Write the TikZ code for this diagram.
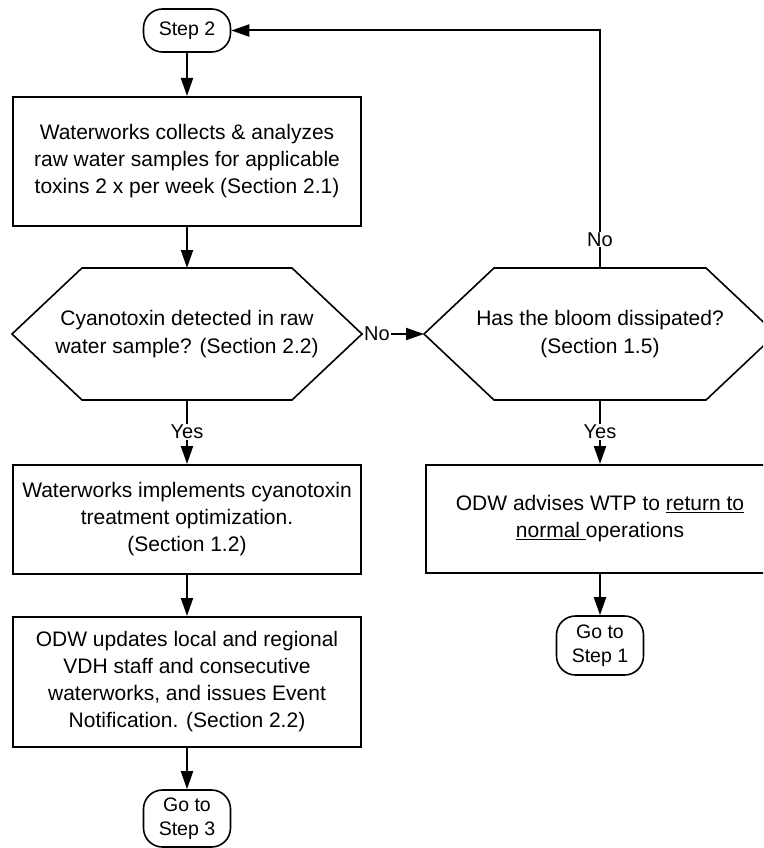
\documentclass[tikz,border=0pt]{standalone}
\usepackage{fontspec}
\setmainfont{Liberation Sans}
\usetikzlibrary{arrows.meta,positioning}

\begin{document}
\begin{tikzpicture}[->,>={Triangle[length=18pt,width=12pt]},line width=2pt,
    box/.style={rectangle,draw,line width=2pt,minimum width=348pt,inner sep=0pt,align=center,font=\fontsize{21}{27}\selectfont},
    hex/.style={rectangle,minimum width=348pt,minimum height=130pt,inner sep=0pt,align=center,font=\fontsize{21}{28}\selectfont},
    hexline/.style={-,line width=1.6pt,line join=miter},
    term/.style={rectangle,rounded corners=19pt,draw,line width=1.6pt,minimum width=87pt,inner sep=0pt,align=center,font=\fontsize{19.5}{24}\selectfont},
    lbl/.style={fill=white,inner sep=1pt,font=\fontsize{20}{24}\selectfont}]
                    \clip (0,0) rectangle (763pt,-848pt);

                    \node[term, minimum height=43pt] (s2) at (187pt,-30.5pt) {Step 2};
                    \node[box, minimum height=129pt] (b1) [below of = s2, node distance = 131pt] {Waterworks collects \& analyzes\\raw water samples for applicable\\toxins 2 x per week (Section 2.1)};
                    \node[hex] (h1) [below of = b1, node distance = 172.5pt] {Cyanotoxin detected in raw\\water sample? (Section 2.2)};
                    \node[box, minimum height=109pt] (b2) [below of = h1, node distance = 185.5pt] {Waterworks implements cyanotoxin\\treatment optimization.\\(Section 1.2)};
                    \node[box, minimum height=130pt] (b3) [below of = b2, node distance = 162.5pt] {ODW updates local and regional\\VDH staff and consecutive\\waterworks, and issues Event\\Notification. (Section 2.2)};
                    \node[term, minimum height=57pt] (s3) [below of = b3, node distance = 136.5pt] {Go to\\Step 3};

                    \node[hex, minimum width=350pt] (h2) [right of = h1, node distance = 413pt] {Has the bloom dissipated?\\(Section 1.5)};
                    \node[box, minimum height=108pt] (b4) [below of = h2, node distance = 185pt] {ODW advises WTP to \underline{return to}\\\underline{normal }operations};
                    \node[term, minimum height=59pt] (s1) [below of = b4, node distance = 126.5pt] {Go to\\Step 1};

                    % hexagon outlines round the two decision nodes
                    \foreach \h in {h1,h2}
                        \draw[hexline] (\h.west) -- ([xshift=70pt]\h.north west) -- ([xshift=-70pt]\h.north east)
                            -- (\h.east) -- ([xshift=-70pt]\h.south east) -- ([xshift=70pt]\h.south west) -- cycle;

                    \path
                        (s2) edge (b1)
                        (b1) edge (h1)
                        (h1) edge node[lbl] {Yes} (b2)
                        (b2) edge (b3)
                        (b3) edge (s3)
                        (h1) edge node[lbl, pos=0.24] {No} (h2)
                        (h2) edge node[lbl] {Yes} (b4)
                        (b4) edge (s1)
                        ;
                    \draw (h2.north) |- node[lbl, pos=0.06] {No} (s2.east);
                \end{tikzpicture}
\end{document}
